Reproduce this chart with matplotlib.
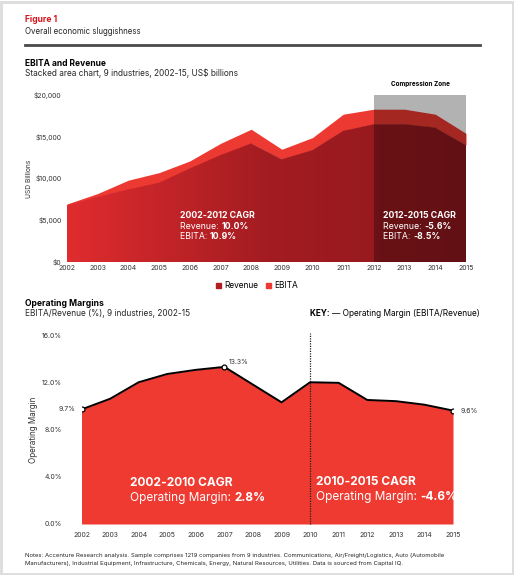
import matplotlib.pyplot as plt
import numpy as np
from matplotlib.patches import Patch, Rectangle
from matplotlib.colors import LinearSegmentedColormap
from matplotlib.text import Annotation

plt.rcParams['font.family'] = ['Inter', 'DejaVu Sans']

W, H = 514, 575

years = list(range(2002, 2016))
revenue = [6800, 7800, 8700, 9500, 11200, 12800, 14200, 12300, 13400, 15700, 16500, 16500, 16100, 14000]
ebita = [150, 400, 1100, 1200, 900, 1400, 1700, 1200, 1500, 2000, 1800, 1800, 1600, 1400]
margin = [9.7, 10.6, 12.0, 12.7, 13.05, 13.3, 11.8, 10.3, 12.0, 11.95, 10.5, 10.4, 10.1, 9.6]
top_yticks = [0, 5000, 10000, 15000, 20000]
top_ylabels = ['$0', '$5,000', '$10,000', '$15,000', '$20,000']
bot_yticks = [0, 4, 8, 12, 16]
bot_ylabels = ['0.0%', '4.0%', '8.0%', '12.0%', '16.0%']
marked = [2002, 2007, 2015]

RED = '#ee3a30'
DARK = '#262626'


def fx(x):
    return x / W


def fy(y):
    return 1 - y / H


def rich_line(fig, x, y, parts, size, color):
    # one line of text, with bold and regular pieces side by side
    prev = None
    for txt, bold in parts:
        w = 'bold' if bold else 'normal'
        if prev is None:
            prev = fig.text(fx(x), fy(y), txt, fontsize=size, fontweight=w, color=color, va='bottom')
        else:
            a = Annotation(txt, xy=(1, 0), xycoords=prev, fontsize=size, fontweight=w,
                           color=color, va='bottom', ha='left', annotation_clip=False)
            fig.add_artist(a)
            prev = a
    return prev


fig = plt.figure(figsize=(W / 100, H / 100), dpi=100)
fig.patch.set_facecolor('white')

# outer frame
fig.add_artist(Rectangle((0.002, 0.002), 0.996, 0.995, transform=fig.transFigure,
                         fill=False, edgecolor='#dcdcdc', lw=2))

# header
fig.text(fx(25), fy(19), 'Figure 1', fontsize=6.1, fontweight='bold', color='#d6141b', va='center')
fig.text(fx(25), fy(31), 'Overall economic sluggishness', fontsize=5.7, color=DARK, va='center')
fig.add_artist(plt.Line2D([fx(25), fx(480)], [fy(45), fy(45)], transform=fig.transFigure,
                          color='#4a4a4a', lw=2))
fig.text(fx(25), fy(63), 'EBITA and Revenue', fontsize=6.1, fontweight='bold', color='black', va='center')
fig.text(fx(25), fy(73), 'Stacked area chart, 9 industries, 2002-15, US$ billions', fontsize=6.0,
         color=DARK, va='center')

# ---- top chart ----
ax1 = fig.add_axes([fx(67), fy(262), fx(466 - 67), (262 - 95) / H])
x = np.array(years)
rev = np.array(revenue)
tot = rev + np.array(ebita)

ax1.fill_between(x, rev, tot, color='#ec3931', lw=0, zorder=2)
poly = ax1.fill_between(x, 0, rev, color='none', lw=0, zorder=2)
cmap = LinearSegmentedColormap.from_list('rev', ['#e02c2f', '#a31c21', '#8e181d'])
grad = np.linspace(0, 1, 256).reshape(1, -1)
img = ax1.imshow(grad, extent=[2002, 2015, 0, 20000], aspect='auto', cmap=cmap, zorder=2)
img.set_clip_path(poly.get_paths()[0], transform=ax1.transData)

# compression zone overlay
ax1.add_patch(Rectangle((2012, 0), 3, 20000, color='black', alpha=0.3, lw=0, zorder=3))
ax1.text(2013.5, 20900, 'Compression Zone', fontsize=4.6, fontweight='bold', ha='center',
         va='bottom', color='black')

ax1.set_xlim(2002, 2015)
ax1.set_ylim(0, 20000)
ax1.set_xticks(years)
ax1.set_xticklabels([str(y) for y in years], fontsize=5, color='#333333')
ax1.set_yticks(top_yticks)
ax1.set_yticklabels(top_ylabels, fontsize=5, color='#333333')
ax1.tick_params(length=0, pad=2)
ax1.tick_params(axis='y', pad=4)
for s in ax1.spines.values():
    s.set_visible(False)
ax1.set_ylabel('USD Billions', fontsize=4.8, color='#333333', labelpad=1)

rich_line(fig, 180, 220, [('2002-2012 CAGR', True)], 6.3, 'white')
rich_line(fig, 180, 231, [('Revenue: ', False), ('10.0%', True)], 6.3, 'white')
rich_line(fig, 180, 241, [('EBITA: ', False), ('10.9%', True)], 6.3, 'white')
rich_line(fig, 383, 220, [('2012-2015 CAGR', True)], 6.3, 'white')
rich_line(fig, 383, 231, [('Revenue: ', False), ('-5.6%', True)], 6.3, 'white')
rich_line(fig, 383, 241, [('EBITA: ', False), ('-8.5%', True)], 6.3, 'white')

fig.legend(handles=[Patch(color='#b01e23', label='Revenue'), Patch(color='#ec3931', label='EBITA')],
           loc='center', bbox_to_anchor=(fx(257), fy(286)), ncol=2, frameon=False, fontsize=6,
           handlelength=0.6, handleheight=0.6, handletextpad=0.3, columnspacing=1.0)

# ---- bottom chart ----
fig.text(fx(25), fy(303), 'Operating Margins', fontsize=6.2, fontweight='bold', color='black', va='center')
fig.text(fx(25), fy(314), 'EBITA/Revenue (%), 9 industries, 2002-15', fontsize=6.0, color=DARK, va='center')
rich_line(fig, 310, 318, [('KEY: ', True), ('\u2014 Operating Margin (EBITA/Revenue)', False)], 5.95, 'black')

ax2 = fig.add_axes([fx(81.5), fy(524), fx(453 - 81.5), (524 - 335) / H])
m = np.array(margin)
ax2.fill_between(x, 0, m, color=RED, lw=0, zorder=2)
ax2.plot(x, m, color='black', lw=1.4, zorder=3)
for yr in marked:
    ax2.plot(yr, margin[years.index(yr)], 'o', ms=3.5, mfc='white', mec='black', mew=0.9, zorder=4)
ax2.text(2002 - 0.2, margin[0], '9.7%', fontsize=5, ha='right', va='center', color='#333333')
ax2.text(2007 + 0.15, margin[5] + 0.15, '13.3%', fontsize=5, ha='left', va='bottom', color='#333333')
ax2.text(2015 + 0.25, margin[-1], '9.6%', fontsize=5, ha='left', va='center', color='#333333')
ax2.axvline(2010, ymin=0, ymax=1.01, color='#222222', lw=0.9, ls=(0, (1, 1)), zorder=4, clip_on=False)

ax2.set_xlim(2002, 2015)
ax2.set_ylim(0, 16)
ax2.set_xticks(years)
ax2.set_xticklabels([str(y) for y in years], fontsize=5, color='#333333')
ax2.set_yticks(bot_yticks)
ax2.set_yticklabels(bot_ylabels, fontsize=5, color='#333333')
ax2.tick_params(length=0, pad=6)
ax2.tick_params(axis='y', pad=14)
for s in ax2.spines.values():
    s.set_visible(False)
ax2.set_ylabel('Operating Margin', fontsize=5.8, color='#333333', labelpad=3)

rich_line(fig, 130, 489, [('2002-2010 CAGR', True)], 8.6, 'white')
rich_line(fig, 130, 504, [('Operating Margin: ', False), ('2.8%', True)], 8.5, 'white')
rich_line(fig, 316, 488, [('2010-2015 CAGR', True)], 8.6, 'white')
rich_line(fig, 316, 503, [('Operating Margin: ', False), ('-4.6%', True)], 8.5, 'white')

fig.text(fx(25), fy(555), 'Notes: Accenture Research analysis. Sample comprises 1219 companies from 9 industries. '
         'Communications, Air/Freight/Logistics, Auto (Automobile', fontsize=4.33, color=DARK, va='center')
fig.text(fx(25), fy(563), 'Manufacturers), Industrial Equipment, Infrastructure, Chemicals, Energy, Natural '
         'Resources, Utilities. Data is sourced from Capital IQ.', fontsize=4.33, color=DARK, va='center')

fig.savefig('out.png', dpi=100)
